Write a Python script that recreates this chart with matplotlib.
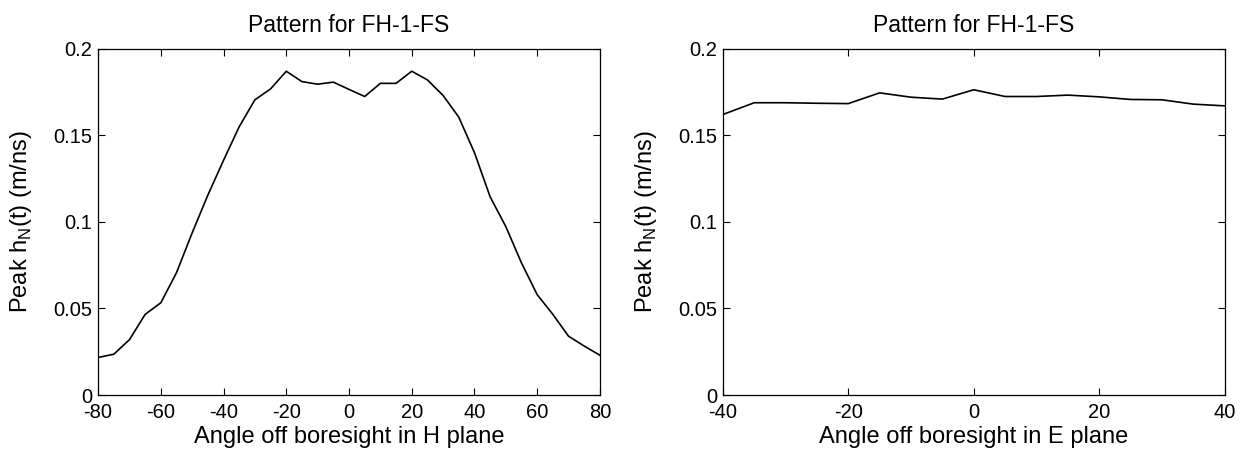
"""
Peak normalized impulse response vs. angle, H plane and E plane.
"""

import matplotlib
matplotlib.use("Agg")
import matplotlib.pyplot as plt

plt.rcParams['font.family'] = ['Liberation Sans', 'DejaVu Sans']
plt.rcParams['axes.unicode_minus'] = False

TITLE = "Pattern for FH-1-FS"
YLABEL = r"Peak h$_\mathregular{N}$(t) (m/ns)"

# H plane cut, every 5 degrees
H_ANGLES = [-80, -75, -70, -65, -60, -55, -50, -45, -40, -35, -30, -25, -20, -15, -10, -5,
            0, 5, 10, 15, 20, 25, 30, 35, 40, 45, 50, 55, 60, 65, 70, 75, 80]
H_PEAK = [0.0217, 0.0236, 0.032, 0.0466, 0.0533, 0.0707, 0.0937, 0.1155, 0.1356, 0.155,
          0.1705, 0.1768, 0.187, 0.181, 0.1795, 0.1807, 0.1765, 0.1724, 0.180, 0.180,
          0.187, 0.182, 0.173, 0.1605, 0.140, 0.1145, 0.0973, 0.0763, 0.058, 0.0466,
          0.034, 0.0283, 0.023]

# E plane cut, every 5 degrees
E_ANGLES = [-40, -35, -30, -25, -20, -15, -10, -5, 0, 5, 10, 15, 20, 25, 30, 35, 40]
E_PEAK = [0.162, 0.1688, 0.1688, 0.1685, 0.1683, 0.1745, 0.172, 0.1709, 0.1763, 0.1724,
          0.1724, 0.1732, 0.1722, 0.1707, 0.1705, 0.168, 0.167]


def pattern(ax, x, y, xlim, xticks, xlabel):
    ax.plot(x, y, color='k', linewidth=1.2)
    ax.set_xlim(xlim)
    ax.set_ylim((0, 0.2))
    ax.set_xticks(xticks)
    ax.set_yticks([0, 0.05, 0.1, 0.15, 0.2])
    ax.set_yticklabels(["0", "0.05", "0.1", "0.15", "0.2"])
    ax.tick_params(direction='in', top=True, right=True, length=5, width=0.8,
                   labelsize=14.5)
    ax.tick_params(axis='x', pad=6)
    ax.tick_params(axis='y', pad=4)
    for s in ax.spines.values():
        s.set_linewidth(0.9)
    ax.set_title(TITLE, fontsize=16.5, pad=12)
    ax.set_xlabel(xlabel, fontsize=17)
    ax.set_ylabel(YLABEL, fontsize=17)
    ax.xaxis.set_label_coords(0.5, -0.09)
    ax.yaxis.set_label_coords(-0.128, 0.5)


def main():
    fig = plt.figure(figsize=(12.42, 4.51), dpi=100)
    ax1 = fig.add_axes([0.079, 0.124, 0.404, 0.768])
    ax2 = fig.add_axes([0.582, 0.124, 0.404, 0.768])

    pattern(ax1, H_ANGLES, H_PEAK, (-80, 80), range(-80, 81, 20), "Angle off boresight in H plane")
    pattern(ax2, E_ANGLES, E_PEAK, (-40, 40), range(-40, 41, 20), "Angle off boresight in E plane")

    fig.savefig("out.png", dpi=100)


if __name__ == "__main__":
    main()
